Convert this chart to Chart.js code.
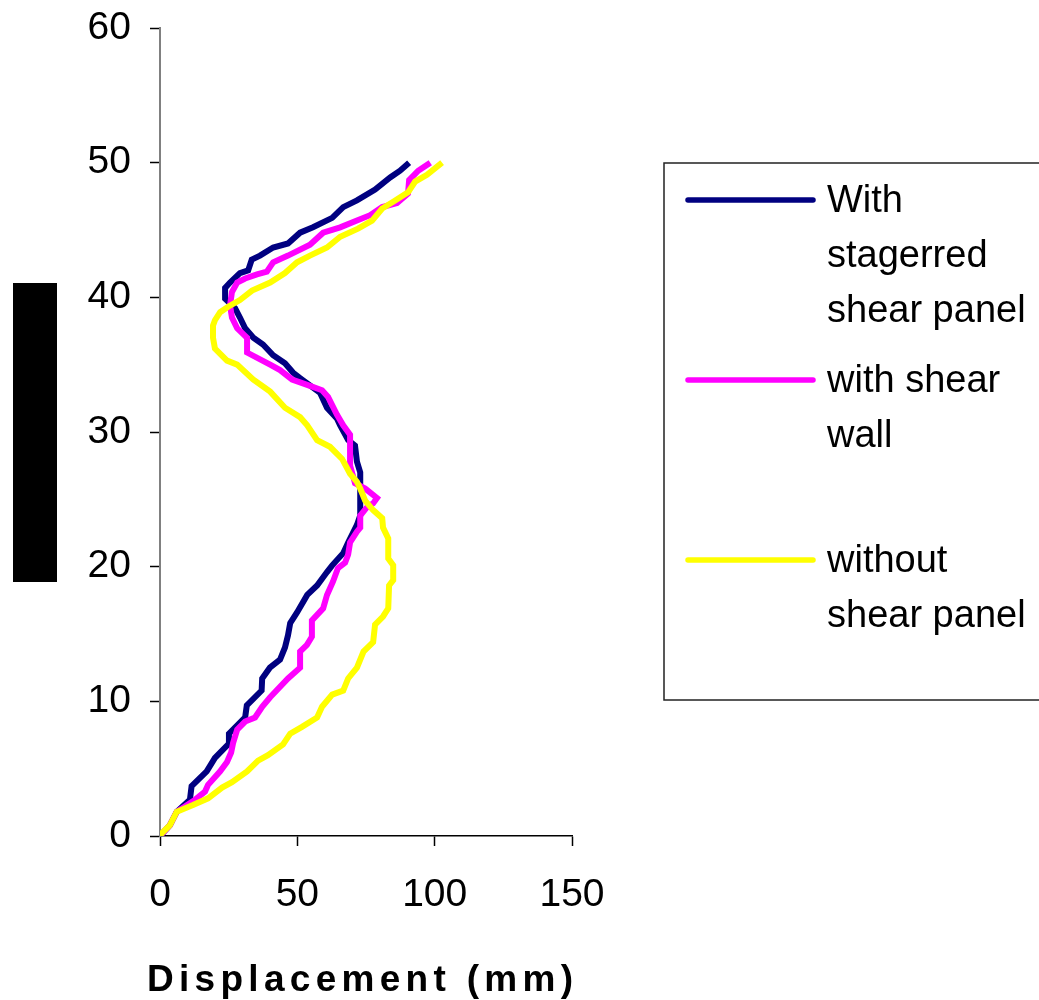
<!DOCTYPE html>
<html>
<head>
<meta charset="utf-8">
<script src="https://cdn.jsdelivr.net/npm/chart.js@4/dist/chart.umd.min.js"></script>
<style>
  html, body { margin: 0; padding: 0; background: #fff; }
  canvas { display: block; }
</style>
</head>
<body>
<canvas id="drift" width="1039" height="1000"></canvas>
<script>
const FONT = "'Liberation Sans', Arial, Helvetica, sans-serif";

const seriesLabels = ['With stagerred shear panel', 'with shear wall', 'without shear panel'];
const seriesColors = ['#000080', '#FF00FF', '#FFFF00'];

// displacement (mm) vs storey level, read from bottom to top
const staggeredX = [0, 3.6, 6.1, 10.9, 11.5, 17, 20, 24.8, 25.1, 31, 31.6, 37, 37.2, 40, 43.7, 45.5, 46.6, 47.4, 49.9, 53.6, 57.2, 60.8, 62.7, 66.7, 68.5, 71.7, 72.9, 72.9, 72.9, 71.7, 71.0, 68.5, 65.6, 64.4, 60.8, 58.3, 55.7, 51.0, 48.5, 45.5, 41.2, 37.5, 34.0, 31.0, 29.1, 27.3, 23.7, 23.7, 25.5, 29.1, 32.1, 33.4, 36.4, 41.2, 46.6, 51.0, 55.7, 62.7, 66.7, 71.7, 78.3, 83.8, 87.4, 90.7];
const staggeredY = [0, 0.8, 1.8, 2.7, 3.7, 4.8, 5.8, 6.8, 7.6, 8.8, 9.7, 10.8, 11.7, 12.5, 13.1, 14.0, 14.9, 15.8, 16.6, 17.9, 18.6, 19.6, 20.1, 21.0, 21.8, 23.1, 23.8, 25.3, 27.0, 27.8, 29.0, 29.4, 30.5, 31.0, 31.8, 32.9, 33.3, 34.0, 34.4, 35.1, 35.7, 36.5, 37.0, 37.7, 38.5, 39.2, 39.9, 40.7, 41.1, 41.8, 42.0, 42.8, 43.1, 43.7, 44.0, 44.8, 45.2, 45.9, 46.7, 47.2, 48.0, 48.9, 49.4, 50.0];

const shearWallX = [0, 3.6, 6.1, 12.8, 16.4, 17.5, 21.9, 24.4, 25.9, 26.6, 28.1, 31.0, 34.6, 37.2, 40.1, 46.6, 51.0, 51.0, 53.5, 55.3, 55.3, 59.4, 60.8, 63.0, 64.8, 67.4, 68.5, 69.2, 71.7, 72.9, 72.9, 75.3, 77.6, 79.0, 74.7, 71.0, 69.2, 69.2, 66.7, 64.4, 61.2, 59.0, 53.6, 48.1, 43.7, 40.1, 31.7, 31.7, 28.1, 26.2, 25.5, 26.2, 28.1, 31.0, 35.3, 38.9, 41.2, 46.6, 54.6, 59.4, 65.6, 71.7, 76.5, 80.9, 86.3, 90.3, 90.7, 94.0, 98.4];
const shearWallY = [0, 0.8, 1.8, 2.7, 3.3, 3.8, 4.8, 5.5, 6.2, 6.9, 7.9, 8.5, 8.8, 9.6, 10.3, 11.7, 12.5, 13.7, 14.2, 14.8, 16.0, 16.9, 17.9, 18.9, 19.9, 20.3, 20.9, 21.8, 22.6, 22.9, 23.8, 24.4, 24.7, 25.1, 25.8, 26.2, 27.5, 29.8, 30.5, 31.3, 32.6, 33.1, 33.5, 33.9, 34.6, 35.0, 35.9, 37.0, 37.7, 38.5, 39.4, 40.4, 41.1, 41.4, 41.7, 41.9, 42.6, 43.1, 43.9, 44.8, 45.2, 45.7, 46.1, 46.7, 47.0, 47.7, 48.7, 49.4, 50.0];

const noPanelX = [0, 0.6, 3.6, 6.1, 12.0, 17.5, 22.6, 26.2, 31.7, 35.7, 39.3, 44.8, 47.4, 51.7, 57.2, 59.0, 62.7, 66.7, 68.5, 71.7, 74.1, 77.6, 78.3, 81.2, 83.1, 83.4, 84.9, 84.9, 83.1, 83.1, 81.2, 80.9, 77.6, 74.7, 72.9, 71.7, 69.2, 66.3, 61.9, 57.2, 53.6, 51.0, 45.5, 40.1, 33.9, 28.1, 24.4, 20.0, 19.3, 19.3, 20.0, 21.9, 24.8, 29.1, 33.5, 40.1, 45.5, 49.9, 54.6, 60.8, 65.6, 72.1, 77.2, 80.9, 84.9, 90.3, 92.9, 97.2, 102.7];
const noPanelY = [0, 0.2, 0.8, 1.8, 2.3, 2.8, 3.6, 4.0, 4.8, 5.6, 6.0, 6.8, 7.6, 8.1, 8.8, 9.6, 10.5, 10.8, 11.7, 12.5, 13.7, 14.4, 15.7, 16.3, 16.9, 18.6, 19.0, 20.1, 20.6, 22.1, 22.9, 23.6, 24.2, 24.9, 25.8, 26.3, 26.9, 28.0, 28.9, 29.4, 30.5, 31.1, 31.8, 33.0, 33.9, 35.0, 35.3, 36.2, 37.0, 37.9, 38.3, 38.9, 39.3, 39.8, 40.5, 41.1, 41.8, 42.6, 43.1, 43.7, 44.5, 45.1, 45.7, 46.6, 47.1, 47.8, 48.6, 49.1, 50.0];

const xTitle = 'Displacement (mm)';

function toPoints(xs, ys) {
  return xs.map((x, i) => ({ x, y: ys[i] }));
}

const seriesData = [
  toPoints(staggeredX, staggeredY),
  toPoints(shearWallX, shearWallY),
  toPoints(noPanelX, noPanelY),
];

// boxed legend on the right, labels wrapped onto several lines
const boxLegend = {
  id: 'boxLegend',
  afterDraw(chart) {
    const ctx = chart.ctx;
    ctx.save();
    ctx.strokeStyle = '#222';
    ctx.lineWidth = 1.5;
    ctx.strokeRect(664, 163, 400, 537);
    ctx.font = '38px ' + FONT;
    ctx.fillStyle = '#000';
    ctx.textBaseline = 'middle';
    ctx.textAlign = 'left';
    chart.data.datasets.forEach((ds, i) => {
      const y0 = 200 + i * 180;
      ctx.strokeStyle = ds.borderColor;
      ctx.lineWidth = 5.5;
      ctx.lineCap = 'round';
      ctx.beginPath();
      ctx.moveTo(688, y0);
      ctx.lineTo(813, y0);
      ctx.stroke();
      // word wrap
      const words = ds.label.split(' ');
      const lines = [];
      let cur = '';
      words.forEach(w => {
        const t = cur ? cur + ' ' + w : w;
        if (cur && ctx.measureText(t).width > 205) {
          lines.push(cur);
          cur = w;
        } else {
          cur = t;
        }
      });
      lines.push(cur);
      lines.forEach((ln, j) => ctx.fillText(ln, 827, y0 + 2 + j * 55));
    });
    ctx.restore();
  }
};

// spaced bold axis title and the filled block left of the y axis
const decorations = {
  id: 'decorations',
  afterDraw(chart) {
    const ctx = chart.ctx;
    ctx.save();
    ctx.fillStyle = '#000';
    ctx.fillRect(13, 283, 44, 299);
    ctx.font = 'bold 37px ' + FONT;
    ctx.textBaseline = 'alphabetic';
    ctx.textAlign = 'left';
    const plain = ctx.measureText(xTitle).width;
    const gap = (426 - plain) / (xTitle.length - 1);
    ctx.letterSpacing = gap + 'px';
    ctx.fillText(xTitle, 147, 991);
    ctx.restore();
  }
};

new Chart(document.getElementById('drift'), {
  type: 'line',
  data: {
    datasets: seriesData.map((pts, i) => ({
      label: seriesLabels[i],
      data: pts,
      borderColor: seriesColors[i],
      backgroundColor: seriesColors[i],
      borderWidth: 6,
      pointRadius: 0,
      tension: 0,
      fill: false,
      order: 3 - i,
    })),
  },
  options: {
    responsive: false,
    animation: false,
    layout: { padding: { left: 0, top: 28, right: 467, bottom: 0 } },
    plugins: {
      legend: { display: false },
      tooltip: { enabled: false },
    },
    scales: {
      x: {
        type: 'linear',
        min: 0,
        max: 150,
        ticks: { stepSize: 50, color: '#000', font: { family: FONT, size: 39 }, padding: 26, maxRotation: 0 },
        grid: { drawOnChartArea: false, drawTicks: true, tickLength: 10, color: '#000', tickWidth: 1.5 },
        border: { color: '#000', width: 1.5 },
        afterFit(scale) {
          scale.height = 164;
          scale.paddingLeft = 0;
          scale.paddingRight = 0;
        },
      },
      y: {
        type: 'linear',
        min: 0,
        max: 60,
        ticks: { stepSize: 10, color: '#000', font: { family: FONT, size: 39 }, padding: 19 },
        grid: { drawOnChartArea: false, drawTicks: true, tickLength: 10, color: '#000', tickWidth: 1.5 },
        border: { color: '#808080', width: 2 },
        afterFit(scale) {
          scale.width = 160;
          scale.paddingTop = 0;
          scale.paddingBottom = 0;
        },
      },
    },
  },
  plugins: [boxLegend, decorations],
});
</script>
</body>
</html>
